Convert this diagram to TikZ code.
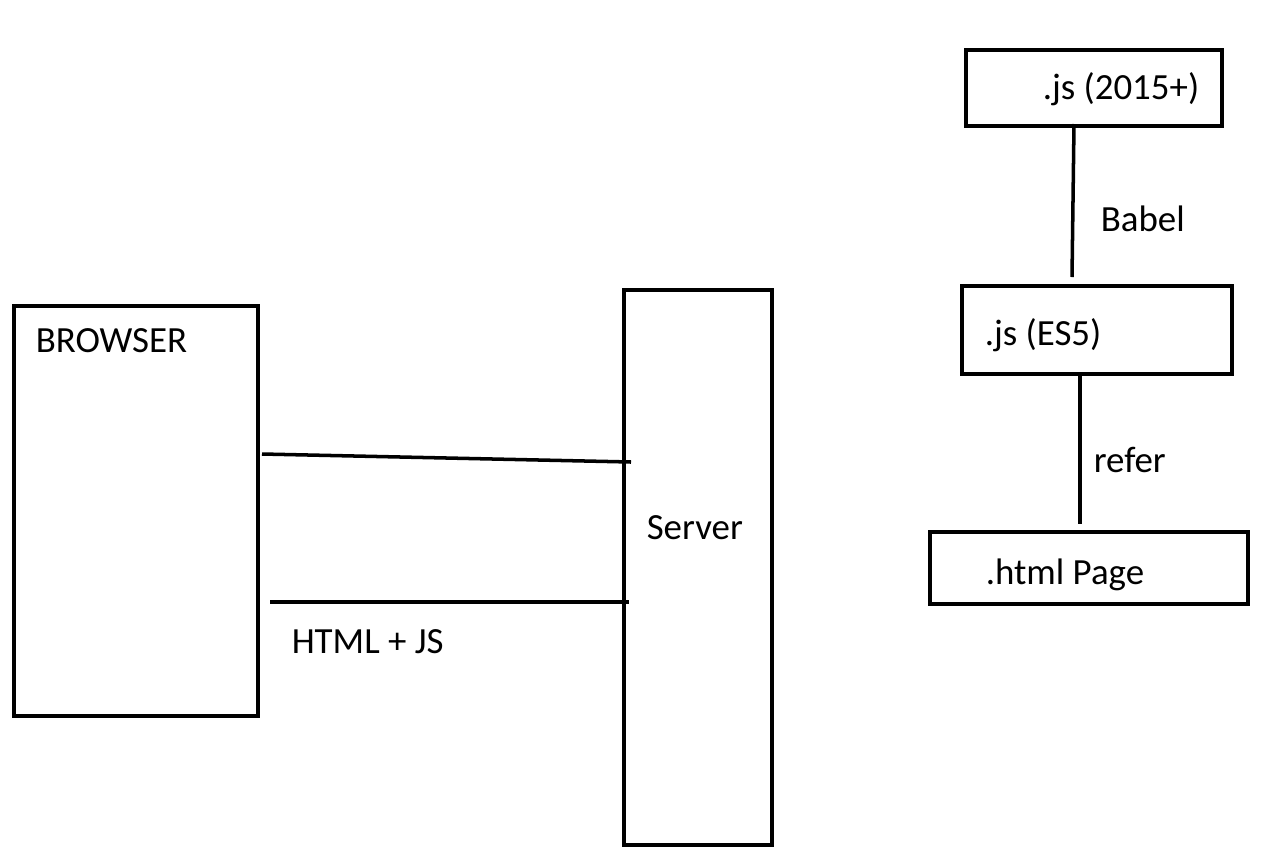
\documentclass[tikz,border=0pt]{standalone}
\usepackage{fontspec}
\setmainfont{Carlito}
\usetikzlibrary{positioning}

\begin{document}
\begin{tikzpicture}[x=0.02cm, y=-0.02cm, line width=2pt,
	box/.style={draw, inner sep=0pt, outer sep=0pt},
	lbl/.style={anchor=base west, inner sep=0pt, font=\fontsize{21}{25}\selectfont}]
	\useasboundingbox (0,0) rectangle (1280,866);

	%Boxes:
	\node[box, minimum width=4.88cm, minimum height=8.2cm]  (browser) at (136,511)   {};
	\node[box, minimum width=2.96cm, minimum height=11.1cm] (server)  at (698,567.5) {};
	\node[box, minimum width=5.12cm, minimum height=1.52cm] (jsnew)   at (1094,88)   {};
	\node[box, minimum width=5.4cm,  minimum height=1.76cm] (jsold)   at (1097,330)  {};
	\node[box, minimum width=6.36cm, minimum height=1.44cm] (html)    at (1089,568)  {};

	%Texts:
	\node[lbl] (tbrowser) at (34,352)   {BROWSER};
	\node[lbl] (tserver)  at (645,539)  {Server};
	\node[lbl] (thtmljs)  at (290,653)  {HTML + JS};
	\node[lbl] (tjsnew)   at (1041,99)  {.js (2015+)};
	\node[lbl] (tbabel)   at (1099,231) {Babel};
	\node[lbl] (tjsold)   at (983,345)  {.js (ES5)};
	\node[lbl] (trefer)   at (1092,472) {refer};
	\node[lbl] (thtml)    at (984,584)  {.html Page};

	%Line ends:
	\coordinate (req1) at (262,454);
	\coordinate (req2) at (631,462);
	\coordinate (res1) at (270,602);
	\coordinate (res2) at (629,602);
	\coordinate (bab1) at (1074,124);
	\coordinate (bab2) at (1072,277);
	\coordinate (ref1) at (1080,376);
	\coordinate (ref2) at (1080,524);

	\draw (req1) -- (req2);
	\draw (res1) -- (res2);
	\draw (bab1) -- (bab2);
	\draw (ref1) -- (ref2);
\end{tikzpicture}
\end{document}
